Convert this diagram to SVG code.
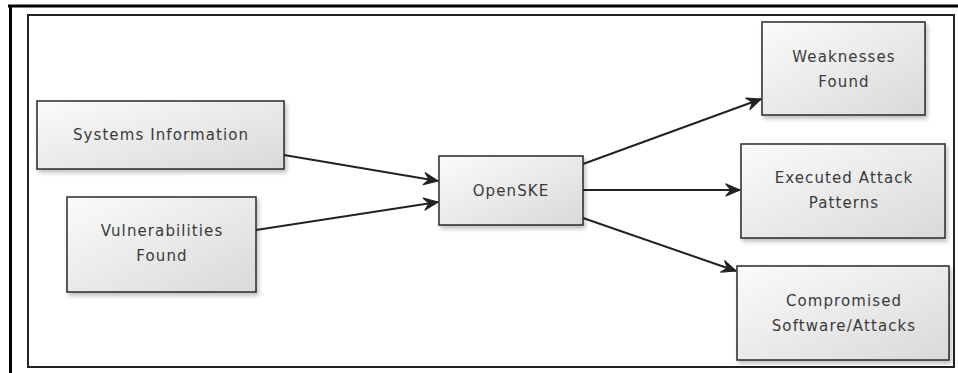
<svg xmlns="http://www.w3.org/2000/svg" width="958" height="373" viewBox="0 0 958 373">
<style>
.box{fill:url(#g);stroke:#2a2a2a;stroke-width:1.5;filter:url(#sh)}
.t{font-family:"DejaVu Sans",Verdana,sans-serif;font-size:15px;letter-spacing:1.1px;fill:#3a3a3a;text-anchor:middle}
.c{stroke:#222;stroke-width:2;fill:none;marker-end:url(#ah)}
</style>
<defs>
<linearGradient id="g" x1="0" y1="0" x2="1" y2="1">
<stop offset="0" stop-color="#fbfbfb"/>
<stop offset="1" stop-color="#d9d9d9"/>
</linearGradient>
<filter id="sh" x="-10%" y="-10%" width="130%" height="140%">
<feDropShadow dx="2" dy="3" stdDeviation="2" flood-color="#000" flood-opacity="0.25"/>
</filter>
<marker id="ah" viewBox="0 0 16 14" refX="15" refY="7" markerWidth="16" markerHeight="14" markerUnits="userSpaceOnUse" orient="auto">
<path d="M1,1 L15,7 L1,13 L6,7 Z" fill="#222" stroke="#222" stroke-width="1.2" stroke-linejoin="round"/>
</marker>
</defs>
<rect x="0" y="0" width="958" height="373" fill="#fff"/>
<g id="frame">
<line x1="8" y1="6" x2="958" y2="6" stroke="#000" stroke-width="3"/>
<line x1="10.5" y1="5" x2="10.5" y2="373" stroke="#000" stroke-width="3"/>
<rect x="28" y="15" width="926" height="352" fill="none" stroke="#222" stroke-width="2"/>
</g>
<g id="connectors">
<line class="c" x1="284" y1="155" x2="438" y2="181"/>
<line class="c" x1="256" y1="230" x2="438" y2="202"/>
<line class="c" x1="583" y1="164" x2="761" y2="99"/>
<line class="c" x1="583" y1="190" x2="740" y2="190"/>
<line class="c" x1="583" y1="218" x2="736" y2="271"/>
</g>
<g id="systems-information">
<rect class="box" x="37" y="101" width="247" height="68"/>
<text class="t" x="161" y="140">Systems Information</text>
</g>
<g id="vulnerabilities-found">
<rect class="box" x="67" y="197" width="189" height="95"/>
<text class="t" x="162" y="236">Vulnerabilities</text>
<text class="t" x="162" y="261">Found</text>
</g>
<g id="openske">
<rect class="box" x="439" y="156" width="144" height="69"/>
<text class="t" x="511" y="196">OpenSKE</text>
</g>
<g id="weaknesses-found">
<rect class="box" x="762" y="22" width="163" height="93"/>
<text class="t" x="844" y="62">Weaknesses</text>
<text class="t" x="844" y="87">Found</text>
</g>
<g id="executed-attack-patterns">
<rect class="box" x="741" y="144" width="204" height="94"/>
<text class="t" x="844" y="183">Executed Attack</text>
<text class="t" x="844" y="208">Patterns</text>
</g>
<g id="compromised">
<rect class="box" x="737" y="266" width="212" height="94"/>
<text class="t" x="844" y="306">Compromised</text>
<text class="t" x="844" y="331">Software/Attacks</text>
</g>
</svg>
